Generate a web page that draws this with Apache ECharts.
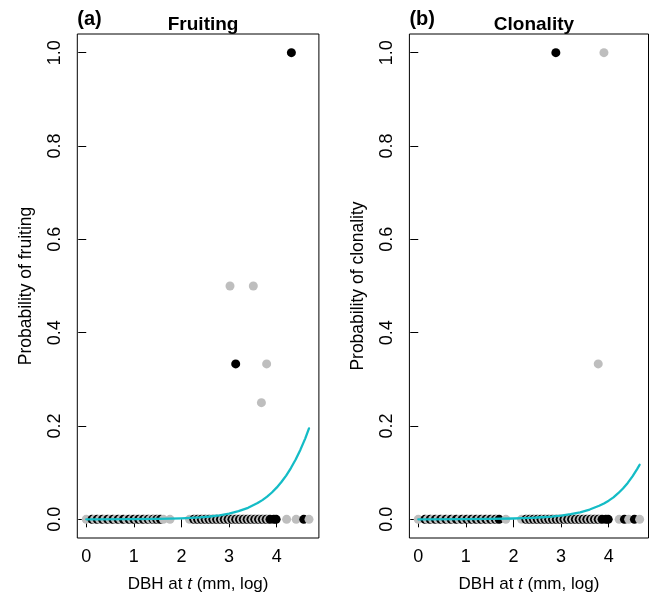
<!DOCTYPE html>
<html>
<head>
<meta charset="utf-8">
<script src="https://cdn.jsdelivr.net/npm/echarts@6/dist/echarts.min.js"></script>
<style>
html,body{margin:0;padding:0;background:#fff;}
#chart{width:651px;height:598px;}
</style>
</head>
<body>
<div id="chart"></div>
<script>
// ---------- DATA ----------
var panelTitles = ['Fruiting', 'Clonality'];
var panelTags = ['(a)', '(b)'];
var yTitles = ['Probability of fruiting', 'Probability of clonality'];
var xTickValues = [0, 1, 2, 3, 4];
var yTickValues = [0, 0.2, 0.4, 0.6, 0.8, 1.0];

// Fruiting panel observations [DBH (log mm), proportion]
var fruitBlack = [
  [0.12,0],[0.23,0],[0.34,0],[0.45,0],[0.56,0],[0.67,0],[0.78,0],[0.9,0],[1.0,0],[1.1,0],
  [1.2,0],[1.3,0],[1.4,0],[1.48,0],[1.56,0],[2.26,0],[2.34,0],[2.42,0],[2.5,0],[2.58,0],
  [2.66,0],[2.74,0],[2.82,0],[2.9,0],[2.98,0],[3.06,0],[3.14,0],[3.22,0],[3.3,0],[3.38,0],
  [3.46,0],[3.54,0],[3.62,0],[3.7,0],[3.78,0],[3.86,0],[3.94,0],[3.99,0],[4.57,0],
  [4.31,1.0],[3.14,0.333]
];
var fruitGray = [
  [0,0],[0.17,0],[0.28,0],[0.39,0],[0.5,0],[0.61,0],[0.72,0],[0.84,0],[0.95,0],[1.05,0],
  [1.15,0],[1.25,0],[1.34,0],[1.43,0],[1.52,0],[1.62,0],[1.76,0],[2.17,0],[2.3,0],[2.38,0],
  [2.46,0],[2.54,0],[2.62,0],[2.7,0],[2.78,0],[2.86,0],[2.94,0],[3.02,0],[3.1,0],[3.18,0],
  [3.26,0],[3.34,0],[3.42,0],[3.5,0],[3.58,0],[3.66,0],[3.74,0],[3.82,0],[4.21,0],[4.41,0],[4.68,0],
  [3.02,0.5],[3.51,0.5],[3.79,0.333],[3.68,0.25]
];
// Fitted fruiting curve
var fruitCurveX = [0, 1, 1.5, 2, 2.2, 2.4, 2.6, 2.8, 3.0, 3.2, 3.4, 3.6, 3.7, 3.8, 3.9, 4.0, 4.1, 4.2, 4.3, 4.4, 4.5, 4.6, 4.68];
var fruitCurveY = [0.0001, 0.0004, 0.0009, 0.0021, 0.003, 0.0043, 0.0061, 0.0087, 0.0124, 0.0175, 0.0247, 0.0348, 0.0412, 0.0487, 0.0575, 0.0679, 0.0799, 0.0937, 0.1099, 0.1283, 0.1493, 0.173, 0.195];

// Clonality panel observations
var clonBlack = [
  [0.14,0],[0.25,0],[0.36,0],[0.47,0],[0.58,0],[0.69,0],[0.8,0],[0.92,0],[1.02,0],[1.12,0],
  [1.22,0],[1.32,0],[1.42,0],[1.52,0],[1.62,0],[1.7,0],[2.26,0],[2.34,0],[2.42,0],[2.5,0],
  [2.58,0],[2.66,0],[2.74,0],[2.82,0],[2.9,0],[2.98,0],[3.06,0],[3.14,0],[3.22,0],[3.3,0],
  [3.38,0],[3.46,0],[3.54,0],[3.62,0],[3.7,0],[3.78,0],[3.86,0],[3.94,0],[3.99,0],[4.33,0],[4.54,0],
  [2.89,1.0]
];
var clonGray = [
  [0,0],[0.19,0],[0.3,0],[0.41,0],[0.52,0],[0.63,0],[0.74,0],[0.86,0],[0.97,0],[1.07,0],
  [1.17,0],[1.27,0],[1.37,0],[1.47,0],[1.57,0],[1.66,0],[1.84,0],[2.17,0],[2.3,0],[2.38,0],
  [2.46,0],[2.54,0],[2.62,0],[2.7,0],[2.78,0],[2.86,0],[2.94,0],[3.02,0],[3.1,0],[3.18,0],
  [3.26,0],[3.34,0],[3.42,0],[3.5,0],[3.58,0],[3.66,0],[3.74,0],[3.82,0],[4.22,0],[4.42,0],[4.65,0],
  [3.90,1.0],[3.78,0.333]
];
var clonCurveX = [0, 1, 1.5, 2, 2.2, 2.4, 2.6, 2.8, 3.0, 3.2, 3.4, 3.6, 3.8, 3.9, 4.0, 4.1, 4.2, 4.3, 4.4, 4.5, 4.6, 4.65];
var clonCurveY = [0.0001, 0.0004, 0.0008, 0.0018, 0.0024, 0.0033, 0.0045, 0.006, 0.008, 0.011, 0.015, 0.021, 0.029, 0.034, 0.040, 0.047, 0.056, 0.066, 0.078, 0.092, 0.108, 0.117];

// ---------- CHART ----------
var FONT = "'Liberation Sans', Arial, Helvetica, sans-serif";
var CURVE = '#14BCC6';
var BLACK = '#000000', GRAY = '#BEBEBE';
function zip(xs, ys){ return xs.map(function(x,i){ return [x, ys[i]]; }); }
// merge the two groups and draw in DBH order (later points overlap earlier ones, as in the original)
function merged(black, gray){
  var items = black.map(function(p){ return {value: p, itemStyle: {color: BLACK}}; })
    .concat(gray.map(function(p){ return {value: p, itemStyle: {color: GRAY}}; }));
  items.sort(function(a, b){ return a.value[0] - b.value[0]; });
  return items;
}

var grids = [
  {left: 77.3, top: 34, width: 241.6, height: 504.4},
  {left: 409.4, top: 34, width: 239.1, height: 504.4}
];
var xRanges = [[-0.188, 4.888], [-0.186, 4.836]];

function xAxis(i){
  return {
    type: 'value', gridIndex: i, min: xRanges[i][0], max: xRanges[i][1],
    axisLine: {show: false},
    splitLine: {show: false},
    axisTick: {show: true, inside: false, length: 8, customValues: xTickValues, lineStyle: {color: '#000', width: 1}},
    axisLabel: {show: true, margin: 10, customValues: xTickValues, color: '#000', fontSize: 18, fontFamily: FONT,
      formatter: function(v){ return String(v); }},
    name: '{n|DBH at }{i|t}{n| (mm, log)}',
    nameLocation: 'middle', nameGap: 38,
    nameTextStyle: {rich: {
      n: {fontSize: 17, fontFamily: FONT, color: '#000'},
      i: {fontSize: 17, fontFamily: FONT, color: '#000', fontStyle: 'italic'}
    }}
  };
}
function yAxis(i){
  return {
    type: 'value', gridIndex: i, min: -0.04, max: 1.04,
    axisLine: {show: false},
    splitLine: {show: false},
    axisTick: {show: true, inside: false, length: 8, customValues: yTickValues, lineStyle: {color: '#000', width: 1}},
    axisLabel: {show: true, margin: 13, rotate: 90, customValues: yTickValues, color: '#000', fontSize: 18, fontFamily: FONT,
      formatter: function(v){ return v.toFixed(1); }},
    name: yTitles[i], nameLocation: 'middle', nameGap: 42,
    nameTextStyle: {fontSize: 17.5, fontFamily: FONT, color: '#000'}
  };
}
function pts(data, i){
  return {type: 'scatter', xAxisIndex: i, yAxisIndex: i, data: data, symbol: 'circle', symbolSize: 9,
    large: false, progressive: 0, itemStyle: {opacity: 1}, silent: true, animation: false};
}
function curve(xs, ys, i){
  return {type: 'line', xAxisIndex: i, yAxisIndex: i, data: zip(xs, ys), showSymbol: false, smooth: false,
    lineStyle: {color: CURVE, width: 2.3, cap: 'round', join: 'round'}, silent: true, animation: false, z: 5};
}

var titles = [];
for (var k = 0; k < 2; k++) {
  titles.push({text: panelTags[k], left: grids[k].left - 5, top: 4,
    textStyle: {fontSize: 20, fontWeight: 'bold', fontFamily: FONT, color: '#000'}});
  titles.push({text: panelTitles[k], left: grids[k].left + grids[k].width / 2, textAlign: 'center', top: 10,
    textStyle: {fontSize: 19, fontWeight: 'bold', fontFamily: FONT, color: '#000'}});
}

var chart = echarts.init(document.getElementById('chart'), null, {renderer: 'canvas'});
chart.setOption({
  backgroundColor: '#fff',
  animation: false,
  title: titles,
  grid: grids.map(function(g){ return Object.assign({show: true, borderColor: '#000', borderWidth: 1, backgroundColor: 'transparent'}, g); }),
  xAxis: [xAxis(0), xAxis(1)],
  yAxis: [yAxis(0), yAxis(1)],
  series: [
    pts(merged(fruitBlack, fruitGray), 0),
    curve(fruitCurveX, fruitCurveY, 0),
    pts(merged(clonBlack, clonGray), 1),
    curve(clonCurveX, clonCurveY, 1)
  ]
});
</script>
</body>
</html>
